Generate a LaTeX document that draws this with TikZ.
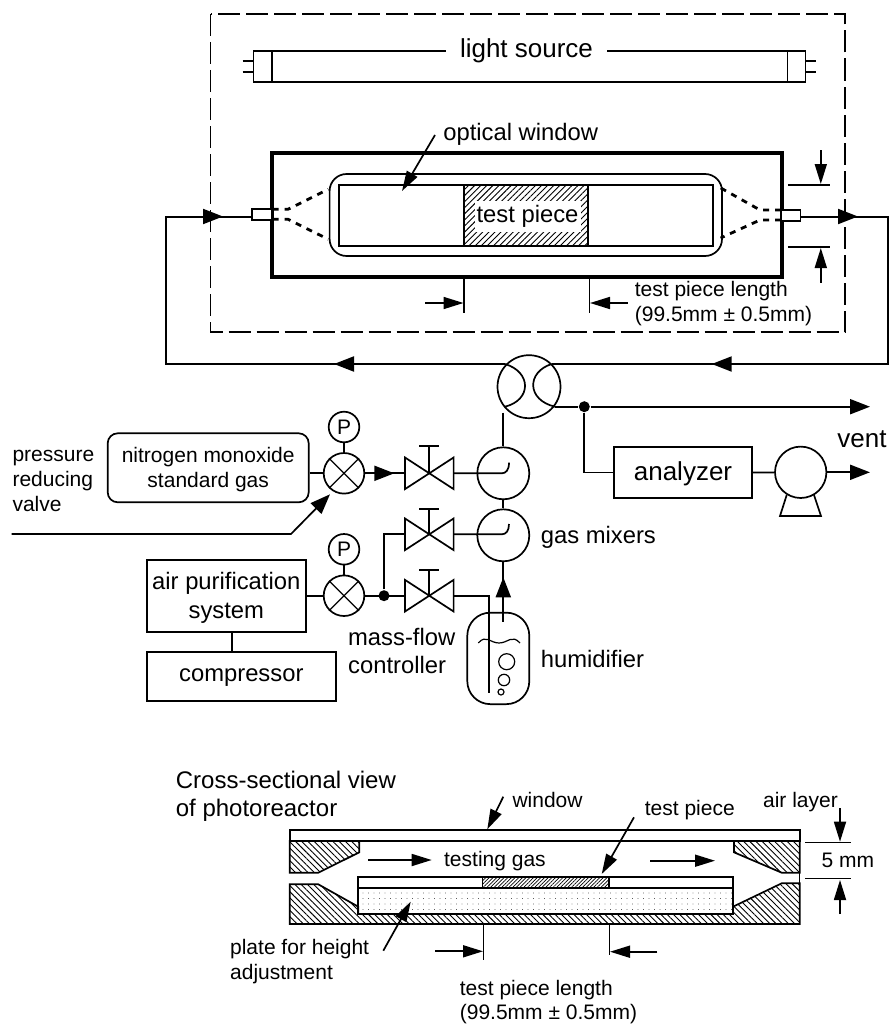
\documentclass[tikz,border=0pt]{standalone}
\usepackage{fontspec}
\setmainfont{Liberation Sans}
\usetikzlibrary{arrows.meta, positioning, calc, patterns.meta}
\newcommand{\stopvalve}[4]{%
  % #1 = name, #2 = x, #3 = y, #4 = stem top
  \draw (#2-24.3,#3-15.8) -- (#2+24.3,#3+15.8) -- (#2+24.3,#3-15.8) -- (#2-24.3,#3+15.8) -- cycle;
  \draw (#2,#3) -- (#2,#4);
  \draw (#2-10,#4) -- (#2+10,#4);
  \coordinate (#1w) at (#2-24.3,#3);
  \coordinate (#1e) at (#2+24.3,#3);
}
\newcommand{\crossvalve}[3]{%
  % #1 = name, #2 = x, #3 = y
  \node[circle, draw, minimum size=40.6, inner sep=0] (#1) at (#2,#3) {};
  \draw[line width=1.2pt] (#1.north west) -- (#1.south east);
  \draw[line width=1.2pt] (#1.north east) -- (#1.south west);
}
\newcommand{\sizefont}[1]{\fontsize{#1}{#1}\selectfont}

\begin{document}
\begin{tikzpicture}[x=1pt, y=-1pt, line width=1.7pt,
    flow/.style={-{Triangle[length=20pt, width=15pt]}, line width=2pt},
    dim/.style={-{Triangle[length=20pt, width=12pt]}, line width=1.7pt},
    txt/.style={font=\sizefont{21}, inner sep=0, align=left},
    txtm/.style={font=\sizefont{23.8}, inner sep=0, align=center},
    txtl/.style={font=\sizefont{26}, inner sep=0, align=center},
    gauge/.style={circle, draw, minimum size=30.6, inner sep=0, font=\sizefont{21}},
    mixer/.style={circle, draw, minimum size=52, inner sep=0},
    hatchb/.style={pattern={Lines[angle=-45, distance=4.4pt, line width=0.9pt]}},
    hatcht/.style={pattern={Lines[angle=45, distance=4.3pt, line width=0.9pt]}},
    hatchf/.style={pattern={Lines[angle=45, distance=2.6pt, line width=0.7pt]}},
    tube/.style={line width=2.8pt, dash pattern=on 6pt off 6pt}]

    \useasboundingbox (0,0) rectangle (889,1025);

    % enclosure and lamp
    \draw[line width=1.3pt, dash pattern=on 22pt off 6pt] (210.5,14) rectangle (845,332);
    \draw[line width=1.5pt] (253.6,51) rectangle (805.5,82);
    \draw[line width=1.5pt] (272,51) -- (272,82);
    \draw[line width=1.5pt] (787.4,51) -- (787.4,82);
    \foreach \py in {61,72} {
        \draw[line width=1.3pt] (242.6,\py) -- (253.6,\py);
        \draw[line width=1.3pt] (805.5,\py) -- (816.4,\py);
    }
    \node[txtl, fill=white, minimum width=161, minimum height=24] (lamp) at (526.5,51) {light source};

    % reactor
    \draw[line width=3.2pt] (272,153) rectangle (782,277);
    \draw (329.6,174) [rounded corners=17] rectangle (722,256);
    \draw[line width=1.7pt] (339,185) rectangle (712.7,246);
    \fill[white] (464,185) rectangle (588,246);
    \draw[line width=1.7pt, hatcht] (464,185) rectangle (588,246);
    \node[txtm, fill=white, minimum width=106, minimum height=31] (piece) at (527.5,216) {test piece};
    \node[txtm, anchor=west] (optic) at (442.5,134) {optical window};
    \coordinate (opticfrom) at (435,135);
    \coordinate (optictip) at (402,191);
    \draw[dim] (opticfrom) -- (optictip);

    % ports
    \node[draw, minimum width=20, minimum height=11, inner sep=0, line width=1.4pt, fill=white] (portin) at (262,214.5) {};
    \node[draw, minimum width=19, minimum height=11, inner sep=0, line width=1.4pt, fill=white] (portout) at (791,215.5) {};
    \draw[tube] (272.7,209.3) -- (288,209.3) -- (328.3,189.3);
    \draw[tube] (272.7,219.3) -- (288,219.3) -- (328.3,239.3);
    \draw[tube] (781,210) -- (760,210) -- (719,187);
    \draw[tube] (781,220) -- (760,220) -- (720.6,238);

    % test piece length, top
    \coordinate (lena) at (464,277);
    \coordinate (lenb) at (589.3,277);
    \draw[line width=1.2pt] (lena) -- ++(0,36);
    \draw[line width=1.2pt] (lenb) -- ++(0,36);
    \draw[dim] (425,303) -- (463.5,303);
    \draw[dim] (627.5,303) -- (590,303);
    \node[txt, anchor=west] (lenlab) at (634,304) {test piece length\\[4pt](99.5mm ± 0.5mm)};

    % height marks, top
    \draw[line width=1.2pt] (787.9,185) -- (829.6,185);
    \draw[line width=1.2pt] (787.9,247) -- (829.6,247);
    \draw[dim] (820.8,150) -- (820.8,184);
    \draw[dim] (820.8,282.7) -- (820.8,248);

    % gas loop
    \node[circle, draw, minimum size=63, inner sep=0] (swap) at (529,386.7) {};
    \coordinate (loopa) at (887.5,216.5);
    \coordinate (loopb) at (887.5,364);
    \coordinate (loopc) at (551.7,364);
    \coordinate (loopd) at (505,364);
    \coordinate (loope) at (166,364);
    \coordinate (loopf) at (166,216.5);
    \coordinate (swapout) at (555,406.7);
    \draw (505,364) .. controls (531.7,372) and (531.7,400) .. (505,406.7);
    \draw (551.7,364) .. controls (526.5,372) and (526.5,400) .. (555,406.7);
    \draw[line width=2pt] (portout.east |- loopa) -- (loopa) -- (loopb) -- (loopc);
    \draw[line width=2pt] (loopd) -- (loope) -- (loopf) -- (portin.west |- loopf);
    \draw[flow] (portout.east |- loopa) -- (858,216.5);
    \draw[flow] (loopb) -- (711.7,364);
    \draw[flow] (loopd) -- (334,364);
    \draw[flow] (loopf) -- (223,216.5);

    % vent and analyzer
    \node[circle, fill=black, minimum size=11, inner sep=0] (tee) at (584.3,406.7) {};
    \draw[flow] (swapout) -- (tee) -- (870,406.7);
    \node[draw, minimum width=137.7, minimum height=50.4, txtl] (analyzer) at (683,472.5) {};
    \node[txtl] (analab) at (683,473.5) {analyzer};
    \draw (tee) |- (analyzer.west);
    \node[circle, draw, minimum size=51.4, inner sep=0] (pump) at (800.7,472.3) {};
    \draw (analyzer.east) -- (pump);
    \draw[flow] (pump.east) -- (870,472.3);
    \draw (786.7,495) -- (780,516) -- (821,516) -- (814,495);
    \node[txtl] (vent) at (862,439) {vent};

    % mixers
    \node[mixer] (mixa) at (503.3,473.3) {};
    \node[mixer] (mixb) at (503.3,535.3) {};
    \coordinate (swapdown) at (503.3,412.7);
    \draw (swapdown) -- (mixa);
    \draw (mixa) -- (mixb);
    \node[txtm, anchor=west] (mixlab) at (540,537) {gas mixers};

    % valves
    \stopvalve{va}{429.3}{473.3}{446}
    \stopvalve{vb}{429.3}{534.3}{509.3}
    \stopvalve{vc}{429.3}{595.7}{570}
    \draw (vae) -- (501.7,473.3) .. controls (506,473.3) and (509,470) .. (509,462.7);
    \draw (vbe) -- (501.7,534.3) .. controls (506,534.3) and (509,531) .. (509,524);

    % nitrogen side
    \node[draw, rounded corners=10, minimum width=201, minimum height=69, inner sep=0] (nogas) at (208.2,467.8) {};
    \node[txt, align=center] (nolab) at (208.2,469.5) {nitrogen monoxide\\[3.5pt]standard gas};
    \crossvalve{xa}{344}{473.3}
    \node[gauge] (pa) at (344,427) {P};
    \draw (pa) -- (xa);
    \draw (nogas.east |- xa) -- (xa);
    \draw (xa.east) -- (vaw);
    \draw[flow] (xa.east) -- (394.3,473.3);
    \node[txt, anchor=north west] (prlab) at (11.7,449) {pressure\\[4pt]reducing\\[4pt]valve};
    \coordinate (preda) at (11.7,534);
    \coordinate (predb) at (291,534);
    \coordinate (predc) at (330,494.3);
    \draw[dim, -{Triangle[length=20pt, width=15pt]}] (preda) -- (predb) -- (predc);

    % air side
    \node[draw, line width=2.2pt, minimum width=158.7, minimum height=72.3, inner sep=0] (purify) at (226.3,596.2) {};
    \node[txtm] (purlab) at (226.3,598) {air purification\\[5pt]system};
    \node[draw, line width=2.2pt, minimum width=188.7, minimum height=49, inner sep=0] (compress) at (241.3,676.5) {};
    \node[txtm] (comlab) at (241.3,678) {compressor};
    \draw (231.7,632.3) -- (231.7,652);
    \crossvalve{xb}{344}{595.7}
    \node[gauge] (pb) at (344,549.3) {P};
    \draw (pb) -- (xb);
    \draw (purify.east |- xb) -- (xb);
    \node[circle, fill=black, minimum size=11, inner sep=0] (teeb) at (384,595.7) {};
    \draw (xb.east) -- (vcw);
    \draw (teeb) |- (vbw);
    \node[txtm, align=left, anchor=north west] (mflab) at (347.3,627) {mass-flow\\[4.5pt]controller};

    % humidifier
    \node[draw, rounded corners=23, minimum width=62, minimum height=91.5, inner sep=0] (humid) at (498.3,658.4) {};
    \coordinate (humidout) at (503.3,621.7);
    \draw (humidout) -- (mixb);
    \draw[flow] (humidout) -- (503.3,577.3);
    \draw (vce) -- (489,595.7) -- (489,693.3);
    \draw[line width=1.2pt] (478.3,643) .. controls (486,634) and (490,643) .. (499,643) .. controls (508,643) and (512,634) .. (520,643);
    \draw[line width=1.2pt] (506.7,661.7) circle (8);
    \draw[line width=1.2pt] (504,680) circle (5.7);
    \draw[line width=1.2pt] (501,692) circle (3);
    \node[txtm, anchor=west] (humlab) at (540,659) {humidifier};

    % cross section
    \node[font=\sizefont{24}, inner sep=0, align=left, anchor=north west] (seclab) at (175,770) {Cross-sectional view\\[4pt]of photoreactor};
    \draw (289.7,830) rectangle (799.7,841);
    \draw[hatchb] (289.7,841) -- (359.3,841) -- (359.3,852.3) -- (318.3,872.7) -- (289.7,872.7) -- cycle;
    \draw[hatchb] (799.7,841) -- (734,841) -- (734,852.3) -- (781.7,872.7) -- (799.7,872.7) -- cycle;
    \draw[hatchb] (289.7,884.3) -- (318.3,884.3) -- (358.3,906.7) -- (358.3,914) -- (733,914) -- (733,906.7) -- (781.7,883.3) -- (799.7,883.3) -- (799.7,924) -- (289.7,924) -- cycle;
    \draw (358.3,877.3) rectangle (733,887.7);
    \draw[pattern={Dots[distance=5.5pt, radius=0.4pt]}] (358.3,887.7) rectangle (733,914);
    \draw[line width=1.3pt, hatchf] (482.3,877.3) rectangle (609,887.7);
    \draw[line width=1.2pt] (799.7,872.7) -- (799.7,883.3);

    \node[txt, anchor=west] (winlab) at (511.7,799.5) {window};
    \draw[dim] (503.3,796.7) -- (487.3,829.3);
    \node[txt, anchor=west] (gaslab) at (443.3,861) {testing gas};
    \draw[dim] (368.3,860) -- (431.7,860);
    \draw[dim] (650,860.7) -- (715,860.7);
    \node[txt, anchor=west] (secpiece) at (644,810) {test piece};
    \draw[dim] (634,817.3) -- (601.7,874);
    \node[txt, anchor=west] (airlab) at (762.3,802) {air layer};
    \node[txt, anchor=west] (fivemm) at (820.7,860) {5 mm};
    \draw[line width=1.2pt] (805,842.3) -- (850.7,842.3);
    \draw[line width=1.2pt] (805,878.7) -- (850.7,878.7);
    \draw[dim] (840,808.3) -- (840,841.7);
    \draw[dim] (840,914) -- (840,880);
    \node[txt, anchor=north west] (platelab) at (229.3,938) {plate for height\\[4pt]adjustment};
    \draw[dim] (383.3,950.7) -- (410.7,901.7);
    \draw[line width=1.2pt] (483.3,924) -- (483.3,960);
    \draw[line width=1.2pt] (609.3,924) -- (609.3,955);
    \draw[dim] (435,951.3) -- (483,951.3);
    \draw[dim] (657.3,951.7) -- (610,951.7);
    \node[txt, anchor=north west] (seclen) at (459,979) {test piece length\\[3pt](99.5mm ± 0.5mm)};

\end{tikzpicture}
\end{document}
